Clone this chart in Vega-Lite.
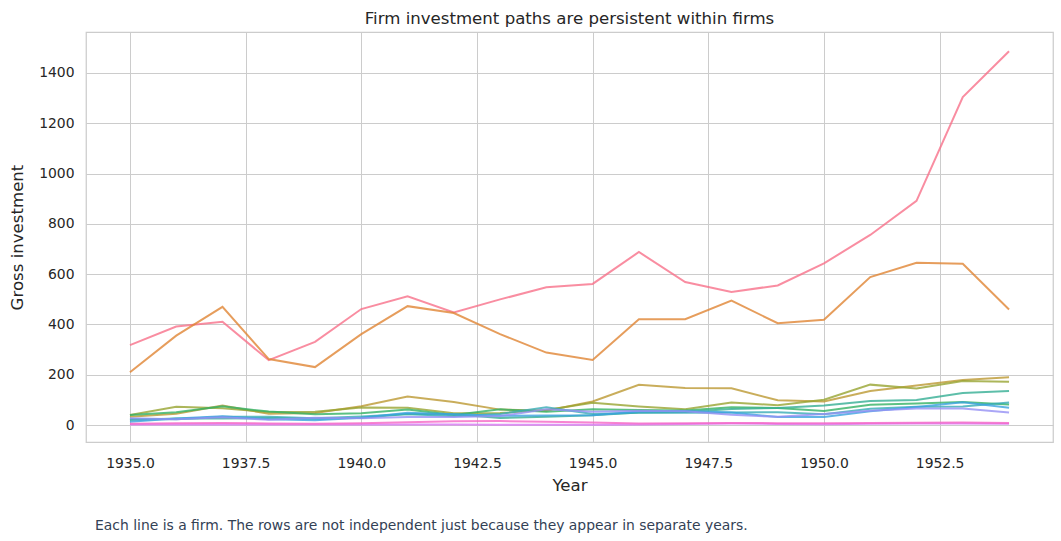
{
  "$schema": "https://vega.github.io/schema/vega-lite/v6.json",
  "background": "white",
  "padding": {"left": 9, "top": 10, "right": 5, "bottom": 8},
  "config": {
    "font": "DejaVu Sans",
    "view": {"stroke": "#cccccc", "strokeWidth": 1.25},
    "axis": {
      "domain": false,
      "ticks": false,
      "grid": true,
      "gridColor": "#cccccc",
      "gridWidth": 1,
      "labelFont": "DejaVu Sans",
      "labelFontSize": 13.9,
      "labelColor": "#262626",
      "titleFont": "DejaVu Sans",
      "titleFontSize": 16.6,
      "titleFontWeight": "normal",
      "titleColor": "#262626"
    }
  },
  "title": {
    "text": "Each line is a firm. The rows are not independent just because they appear in separate years.",
    "orient": "bottom",
    "anchor": "start",
    "frame": "bounds",
    "fontSize": 13.9,
    "fontWeight": "normal",
    "color": "#334155",
    "offset": 24,
    "dx": 86
  },
  "data": {
    "values": [
      {"firm": "General Motors", "year": 1935, "invest": 317.6},
      {"firm": "General Motors", "year": 1936, "invest": 391.8},
      {"firm": "General Motors", "year": 1937, "invest": 410.6},
      {"firm": "General Motors", "year": 1938, "invest": 257.7},
      {"firm": "General Motors", "year": 1939, "invest": 330.8},
      {"firm": "General Motors", "year": 1940, "invest": 461.2},
      {"firm": "General Motors", "year": 1941, "invest": 512.0},
      {"firm": "General Motors", "year": 1942, "invest": 448.0},
      {"firm": "General Motors", "year": 1943, "invest": 499.6},
      {"firm": "General Motors", "year": 1944, "invest": 547.5},
      {"firm": "General Motors", "year": 1945, "invest": 561.2},
      {"firm": "General Motors", "year": 1946, "invest": 688.1},
      {"firm": "General Motors", "year": 1947, "invest": 568.9},
      {"firm": "General Motors", "year": 1948, "invest": 529.2},
      {"firm": "General Motors", "year": 1949, "invest": 555.1},
      {"firm": "General Motors", "year": 1950, "invest": 642.9},
      {"firm": "General Motors", "year": 1951, "invest": 755.9},
      {"firm": "General Motors", "year": 1952, "invest": 891.2},
      {"firm": "General Motors", "year": 1953, "invest": 1304.4},
      {"firm": "General Motors", "year": 1954, "invest": 1486.7},
      {"firm": "US Steel", "year": 1935, "invest": 209.9},
      {"firm": "US Steel", "year": 1936, "invest": 355.3},
      {"firm": "US Steel", "year": 1937, "invest": 469.9},
      {"firm": "US Steel", "year": 1938, "invest": 262.3},
      {"firm": "US Steel", "year": 1939, "invest": 230.4},
      {"firm": "US Steel", "year": 1940, "invest": 361.6},
      {"firm": "US Steel", "year": 1941, "invest": 472.8},
      {"firm": "US Steel", "year": 1942, "invest": 445.6},
      {"firm": "US Steel", "year": 1943, "invest": 361.6},
      {"firm": "US Steel", "year": 1944, "invest": 288.2},
      {"firm": "US Steel", "year": 1945, "invest": 258.7},
      {"firm": "US Steel", "year": 1946, "invest": 420.3},
      {"firm": "US Steel", "year": 1947, "invest": 420.5},
      {"firm": "US Steel", "year": 1948, "invest": 494.5},
      {"firm": "US Steel", "year": 1949, "invest": 405.1},
      {"firm": "US Steel", "year": 1950, "invest": 418.8},
      {"firm": "US Steel", "year": 1951, "invest": 588.2},
      {"firm": "US Steel", "year": 1952, "invest": 645.5},
      {"firm": "US Steel", "year": 1953, "invest": 641.0},
      {"firm": "US Steel", "year": 1954, "invest": 459.3},
      {"firm": "General Electric", "year": 1935, "invest": 33.1},
      {"firm": "General Electric", "year": 1936, "invest": 45.0},
      {"firm": "General Electric", "year": 1937, "invest": 77.2},
      {"firm": "General Electric", "year": 1938, "invest": 44.6},
      {"firm": "General Electric", "year": 1939, "invest": 48.1},
      {"firm": "General Electric", "year": 1940, "invest": 74.4},
      {"firm": "General Electric", "year": 1941, "invest": 113.0},
      {"firm": "General Electric", "year": 1942, "invest": 91.9},
      {"firm": "General Electric", "year": 1943, "invest": 61.3},
      {"firm": "General Electric", "year": 1944, "invest": 56.8},
      {"firm": "General Electric", "year": 1945, "invest": 93.6},
      {"firm": "General Electric", "year": 1946, "invest": 159.9},
      {"firm": "General Electric", "year": 1947, "invest": 147.2},
      {"firm": "General Electric", "year": 1948, "invest": 146.3},
      {"firm": "General Electric", "year": 1949, "invest": 98.3},
      {"firm": "General Electric", "year": 1950, "invest": 93.5},
      {"firm": "General Electric", "year": 1951, "invest": 135.2},
      {"firm": "General Electric", "year": 1952, "invest": 157.3},
      {"firm": "General Electric", "year": 1953, "invest": 179.5},
      {"firm": "General Electric", "year": 1954, "invest": 189.6},
      {"firm": "Chrysler", "year": 1935, "invest": 40.29},
      {"firm": "Chrysler", "year": 1936, "invest": 72.76},
      {"firm": "Chrysler", "year": 1937, "invest": 66.26},
      {"firm": "Chrysler", "year": 1938, "invest": 51.6},
      {"firm": "Chrysler", "year": 1939, "invest": 52.41},
      {"firm": "Chrysler", "year": 1940, "invest": 69.41},
      {"firm": "Chrysler", "year": 1941, "invest": 68.35},
      {"firm": "Chrysler", "year": 1942, "invest": 46.8},
      {"firm": "Chrysler", "year": 1943, "invest": 47.4},
      {"firm": "Chrysler", "year": 1944, "invest": 59.57},
      {"firm": "Chrysler", "year": 1945, "invest": 88.78},
      {"firm": "Chrysler", "year": 1946, "invest": 74.12},
      {"firm": "Chrysler", "year": 1947, "invest": 62.68},
      {"firm": "Chrysler", "year": 1948, "invest": 89.36},
      {"firm": "Chrysler", "year": 1949, "invest": 78.98},
      {"firm": "Chrysler", "year": 1950, "invest": 100.66},
      {"firm": "Chrysler", "year": 1951, "invest": 160.62},
      {"firm": "Chrysler", "year": 1952, "invest": 145.0},
      {"firm": "Chrysler", "year": 1953, "invest": 174.93},
      {"firm": "Chrysler", "year": 1954, "invest": 172.49},
      {"firm": "Atlantic Refining", "year": 1935, "invest": 39.68},
      {"firm": "Atlantic Refining", "year": 1936, "invest": 50.73},
      {"firm": "Atlantic Refining", "year": 1937, "invest": 74.24},
      {"firm": "Atlantic Refining", "year": 1938, "invest": 53.51},
      {"firm": "Atlantic Refining", "year": 1939, "invest": 42.65},
      {"firm": "Atlantic Refining", "year": 1940, "invest": 46.48},
      {"firm": "Atlantic Refining", "year": 1941, "invest": 61.4},
      {"firm": "Atlantic Refining", "year": 1942, "invest": 39.67},
      {"firm": "Atlantic Refining", "year": 1943, "invest": 62.24},
      {"firm": "Atlantic Refining", "year": 1944, "invest": 52.32},
      {"firm": "Atlantic Refining", "year": 1945, "invest": 63.21},
      {"firm": "Atlantic Refining", "year": 1946, "invest": 59.37},
      {"firm": "Atlantic Refining", "year": 1947, "invest": 58.02},
      {"firm": "Atlantic Refining", "year": 1948, "invest": 70.34},
      {"firm": "Atlantic Refining", "year": 1949, "invest": 67.42},
      {"firm": "Atlantic Refining", "year": 1950, "invest": 55.74},
      {"firm": "Atlantic Refining", "year": 1951, "invest": 80.3},
      {"firm": "Atlantic Refining", "year": 1952, "invest": 85.4},
      {"firm": "Atlantic Refining", "year": 1953, "invest": 91.9},
      {"firm": "Atlantic Refining", "year": 1954, "invest": 81.43},
      {"firm": "IBM", "year": 1935, "invest": 20.36},
      {"firm": "IBM", "year": 1936, "invest": 25.98},
      {"firm": "IBM", "year": 1937, "invest": 25.94},
      {"firm": "IBM", "year": 1938, "invest": 27.53},
      {"firm": "IBM", "year": 1939, "invest": 24.6},
      {"firm": "IBM", "year": 1940, "invest": 28.54},
      {"firm": "IBM", "year": 1941, "invest": 43.41},
      {"firm": "IBM", "year": 1942, "invest": 42.81},
      {"firm": "IBM", "year": 1943, "invest": 27.84},
      {"firm": "IBM", "year": 1944, "invest": 32.6},
      {"firm": "IBM", "year": 1945, "invest": 39.03},
      {"firm": "IBM", "year": 1946, "invest": 50.17},
      {"firm": "IBM", "year": 1947, "invest": 51.85},
      {"firm": "IBM", "year": 1948, "invest": 64.03},
      {"firm": "IBM", "year": 1949, "invest": 68.16},
      {"firm": "IBM", "year": 1950, "invest": 77.34},
      {"firm": "IBM", "year": 1951, "invest": 95.3},
      {"firm": "IBM", "year": 1952, "invest": 99.49},
      {"firm": "IBM", "year": 1953, "invest": 127.52},
      {"firm": "IBM", "year": 1954, "invest": 135.72},
      {"firm": "Union Oil", "year": 1935, "invest": 24.43},
      {"firm": "Union Oil", "year": 1936, "invest": 23.21},
      {"firm": "Union Oil", "year": 1937, "invest": 32.78},
      {"firm": "Union Oil", "year": 1938, "invest": 32.54},
      {"firm": "Union Oil", "year": 1939, "invest": 26.65},
      {"firm": "Union Oil", "year": 1940, "invest": 33.71},
      {"firm": "Union Oil", "year": 1941, "invest": 43.5},
      {"firm": "Union Oil", "year": 1942, "invest": 34.46},
      {"firm": "Union Oil", "year": 1943, "invest": 44.28},
      {"firm": "Union Oil", "year": 1944, "invest": 70.8},
      {"firm": "Union Oil", "year": 1945, "invest": 44.12},
      {"firm": "Union Oil", "year": 1946, "invest": 48.98},
      {"firm": "Union Oil", "year": 1947, "invest": 48.51},
      {"firm": "Union Oil", "year": 1948, "invest": 50.0},
      {"firm": "Union Oil", "year": 1949, "invest": 50.59},
      {"firm": "Union Oil", "year": 1950, "invest": 42.53},
      {"firm": "Union Oil", "year": 1951, "invest": 64.77},
      {"firm": "Union Oil", "year": 1952, "invest": 72.68},
      {"firm": "Union Oil", "year": 1953, "invest": 73.86},
      {"firm": "Union Oil", "year": 1954, "invest": 89.51},
      {"firm": "Westinghouse", "year": 1935, "invest": 12.93},
      {"firm": "Westinghouse", "year": 1936, "invest": 25.9},
      {"firm": "Westinghouse", "year": 1937, "invest": 35.05},
      {"firm": "Westinghouse", "year": 1938, "invest": 22.89},
      {"firm": "Westinghouse", "year": 1939, "invest": 18.84},
      {"firm": "Westinghouse", "year": 1940, "invest": 28.57},
      {"firm": "Westinghouse", "year": 1941, "invest": 48.51},
      {"firm": "Westinghouse", "year": 1942, "invest": 43.34},
      {"firm": "Westinghouse", "year": 1943, "invest": 37.02},
      {"firm": "Westinghouse", "year": 1944, "invest": 37.81},
      {"firm": "Westinghouse", "year": 1945, "invest": 39.27},
      {"firm": "Westinghouse", "year": 1946, "invest": 53.46},
      {"firm": "Westinghouse", "year": 1947, "invest": 55.56},
      {"firm": "Westinghouse", "year": 1948, "invest": 49.56},
      {"firm": "Westinghouse", "year": 1949, "invest": 32.04},
      {"firm": "Westinghouse", "year": 1950, "invest": 32.24},
      {"firm": "Westinghouse", "year": 1951, "invest": 54.38},
      {"firm": "Westinghouse", "year": 1952, "invest": 71.78},
      {"firm": "Westinghouse", "year": 1953, "invest": 90.08},
      {"firm": "Westinghouse", "year": 1954, "invest": 68.6},
      {"firm": "Goodyear", "year": 1935, "invest": 26.63},
      {"firm": "Goodyear", "year": 1936, "invest": 23.39},
      {"firm": "Goodyear", "year": 1937, "invest": 30.65},
      {"firm": "Goodyear", "year": 1938, "invest": 20.89},
      {"firm": "Goodyear", "year": 1939, "invest": 28.78},
      {"firm": "Goodyear", "year": 1940, "invest": 26.93},
      {"firm": "Goodyear", "year": 1941, "invest": 32.08},
      {"firm": "Goodyear", "year": 1942, "invest": 32.21},
      {"firm": "Goodyear", "year": 1943, "invest": 35.69},
      {"firm": "Goodyear", "year": 1944, "invest": 62.47},
      {"firm": "Goodyear", "year": 1945, "invest": 52.32},
      {"firm": "Goodyear", "year": 1946, "invest": 56.95},
      {"firm": "Goodyear", "year": 1947, "invest": 54.32},
      {"firm": "Goodyear", "year": 1948, "invest": 40.53},
      {"firm": "Goodyear", "year": 1949, "invest": 32.54},
      {"firm": "Goodyear", "year": 1950, "invest": 43.48},
      {"firm": "Goodyear", "year": 1951, "invest": 56.49},
      {"firm": "Goodyear", "year": 1952, "invest": 65.98},
      {"firm": "Goodyear", "year": 1953, "invest": 66.11},
      {"firm": "Goodyear", "year": 1954, "invest": 49.34},
      {"firm": "Diamond Match", "year": 1935, "invest": 2.54},
      {"firm": "Diamond Match", "year": 1936, "invest": 2.0},
      {"firm": "Diamond Match", "year": 1937, "invest": 2.19},
      {"firm": "Diamond Match", "year": 1938, "invest": 1.99},
      {"firm": "Diamond Match", "year": 1939, "invest": 2.03},
      {"firm": "Diamond Match", "year": 1940, "invest": 1.81},
      {"firm": "Diamond Match", "year": 1941, "invest": 2.14},
      {"firm": "Diamond Match", "year": 1942, "invest": 1.86},
      {"firm": "Diamond Match", "year": 1943, "invest": 0.93},
      {"firm": "Diamond Match", "year": 1944, "invest": 1.18},
      {"firm": "Diamond Match", "year": 1945, "invest": 1.36},
      {"firm": "Diamond Match", "year": 1946, "invest": 2.24},
      {"firm": "Diamond Match", "year": 1947, "invest": 3.81},
      {"firm": "Diamond Match", "year": 1948, "invest": 5.66},
      {"firm": "Diamond Match", "year": 1949, "invest": 4.21},
      {"firm": "Diamond Match", "year": 1950, "invest": 3.42},
      {"firm": "Diamond Match", "year": 1951, "invest": 4.67},
      {"firm": "Diamond Match", "year": 1952, "invest": 6.0},
      {"firm": "Diamond Match", "year": 1953, "invest": 6.53},
      {"firm": "Diamond Match", "year": 1954, "invest": 5.12},
      {"firm": "American Steel", "year": 1935, "invest": 5.5},
      {"firm": "American Steel", "year": 1936, "invest": 7.0},
      {"firm": "American Steel", "year": 1937, "invest": 8.5},
      {"firm": "American Steel", "year": 1938, "invest": 6.0},
      {"firm": "American Steel", "year": 1939, "invest": 5.5},
      {"firm": "American Steel", "year": 1940, "invest": 7.0},
      {"firm": "American Steel", "year": 1941, "invest": 11.0},
      {"firm": "American Steel", "year": 1942, "invest": 15.0},
      {"firm": "American Steel", "year": 1943, "invest": 16.0},
      {"firm": "American Steel", "year": 1944, "invest": 13.0},
      {"firm": "American Steel", "year": 1945, "invest": 10.0},
      {"firm": "American Steel", "year": 1946, "invest": 6.0},
      {"firm": "American Steel", "year": 1947, "invest": 7.0},
      {"firm": "American Steel", "year": 1948, "invest": 8.0},
      {"firm": "American Steel", "year": 1949, "invest": 7.5},
      {"firm": "American Steel", "year": 1950, "invest": 7.0},
      {"firm": "American Steel", "year": 1951, "invest": 8.0},
      {"firm": "American Steel", "year": 1952, "invest": 9.0},
      {"firm": "American Steel", "year": 1953, "invest": 10.0},
      {"firm": "American Steel", "year": 1954, "invest": 8.5}
    ]
  },
  "vconcat": [
    {
      "width": 967,
      "height": 410,
      "title": {
        "text": "Firm investment paths are persistent within firms",
        "fontSize": 16.6,
        "fontWeight": "normal",
        "color": "#262626",
        "offset": 4
      },
      "mark": {"type": "line", "strokeWidth": 2, "opacity": 0.8, "clip": true},
      "encoding": {
        "x": {
          "field": "year",
          "type": "quantitative",
          "title": "Year",
          "scale": {"domain": [1934.05, 1954.95], "nice": false, "zero": false},
          "axis": {
            "values": [1935, 1937.5, 1940, 1942.5, 1945, 1947.5, 1950, 1952.5],
            "format": ".1f",
            "labelPadding": 14,
            "titlePadding": 8
          }
        },
        "y": {
          "field": "invest",
          "type": "quantitative",
          "title": "Gross investment",
          "scale": {"domain": [-67.5, 1563], "nice": false, "zero": false},
          "axis": {
            "values": [0, 200, 400, 600, 800, 1000, 1200, 1400],
            "format": "d",
            "labelPadding": 12,
            "titlePadding": 13
          }
        },
        "color": {
          "field": "firm",
          "type": "nominal",
          "legend": null,
          "scale": {
            "domain": ["General Motors", "US Steel", "General Electric", "Chrysler", "Atlantic Refining", "IBM", "Union Oil", "Westinghouse", "Goodyear", "Diamond Match", "American Steel"],
            "range": ["#f77189", "#e08433", "#bb9832", "#97a431", "#33b164", "#35ae93", "#37abb5", "#3ba3e0", "#9590f4", "#d874f4", "#f567c6"]
          }
        },
        "detail": {"field": "firm"}
      }
    }
  ]
}
